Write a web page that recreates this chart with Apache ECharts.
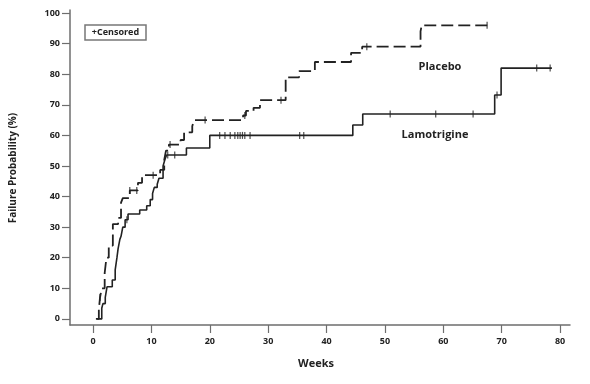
<!DOCTYPE html>
<html>
<head>
<meta charset="utf-8">
<script src="https://cdn.jsdelivr.net/npm/echarts@6/dist/echarts.min.js"></script>
<style>html,body{margin:0;padding:0;background:#fff}#c{width:590px;height:384px}</style>
</head>
<body>
<div id="c"></div>
<script>
// Kaplan-Meier step data: time (weeks) at which the failure probability (%) becomes the given value
var placeboTimes = [0.5, 1.0, 1.2, 1.5, 2.0, 2.3, 2.7, 3.4, 4.3, 4.8, 5.1, 6.3, 7.7, 8.4, 11.5, 12.2, 12.5, 13.0, 15.0, 15.6, 17.0, 17.3, 25.7, 26.2, 27.5, 28.6, 33.0, 35.3, 38.0, 44.2, 46.1, 56.1, 56.3, 67.6];
var placeboProb  = [0, 3, 7, 10, 15, 20, 24, 31, 33, 38, 39.5, 42, 44.5, 47, 48.7, 52, 55, 57, 58.5, 61, 63, 65, 66.5, 68, 69, 71.5, 79, 81, 84, 87, 89, 94, 96, 96];
var lamoTimes = [0.7, 1.5, 1.7, 2.1, 2.4, 3.3, 3.8, 4.1, 4.3, 4.6, 4.8, 5.1, 5.5, 6.0, 8.0, 9.2, 9.8, 10.2, 10.5, 11.0, 11.3, 12.0, 12.3, 12.6, 16.0, 20.0, 44.5, 46.2, 68.8, 69.9, 78.6];
var lamoProb  = [0, 3.5, 5, 7, 10.5, 12.7, 16, 20, 23, 26, 27, 30, 32.4, 34.3, 35.6, 37, 39, 41, 43, 44, 46, 50, 52, 53.6, 55.9, 60, 63.4, 67, 73.2, 82, 82];
// censoring times (weeks)
var placeboCensor = [1.2, 6.3, 7.5, 10.3, 13.2, 19.2, 26.0, 32.2, 46.9, 67.5];
var lamoCensor = [5.8, 12.8, 14.0, 21.7, 22.6, 23.5, 24.3, 24.8, 25.2, 25.6, 26.0, 26.9, 35.4, 36.1, 50.9, 58.7, 65.1, 69.2, 76.0, 78.3];
// axis ticks
var xTicks = [0, 10, 20, 30, 40, 50, 60, 70, 80];
var yTicks = [0, 10, 20, 30, 40, 50, 60, 70, 80, 90, 100];

function pairs(ts, ps) { return ts.map(function (t, i) { return [t, ps[i]]; }); }
function valueAt(ts, ps, t) {
  var v = ps[0];
  for (var i = 0; i < ts.length; i++) { if (ts[i] <= t) v = ps[i]; }
  return v;
}
function censorPts(cs, ts, ps) { return cs.map(function (t) { return [t, valueAt(ts, ps, t)]; }); }

var ink = '#222';
var axisCol = '#6e6e6e';
var font = '"Open Sans", "DejaVu Sans", sans-serif';

var chart = echarts.init(document.getElementById('c'), null, { renderer: 'canvas' });
chart.setOption({
  animation: false,
  backgroundColor: '#fff',
  grid: { left: 70, right: 20, top: 10, bottom: 59 },
  xAxis: {
    type: 'value', min: -3.94, max: 81.7,
    axisLine: { show: true, onZero: false, lineStyle: { color: axisCol, width: 1.5 } },
    axisTick: { show: true, length: 8, customValues: xTicks, lineStyle: { color: axisCol, width: 1.2 } },
    axisLabel: { customValues: xTicks, color: ink, fontSize: 9, fontWeight: 'bold', fontFamily: font, margin: 12 },
    splitLine: { show: false }
  },
  yAxis: {
    type: 'value', min: -2, max: 101,
    axisLine: { show: true, onZero: false, lineStyle: { color: axisCol, width: 1.5 } },
    axisTick: { show: true, length: 8, customValues: yTicks, lineStyle: { color: axisCol, width: 1.2 } },
    axisLabel: { customValues: yTicks, color: ink, fontSize: 9, fontWeight: 'bold', fontFamily: font, margin: 10 },
    splitLine: { show: false }
  },
  series: [
    { name: 'Placebo', type: 'line', step: 'end', data: pairs(placeboTimes, placeboProb), showSymbol: false,
      lineStyle: { color: ink, width: 1.8, type: [12, 5] }, z: 3 },
    { name: 'Lamotrigine', type: 'line', step: 'end', data: pairs(lamoTimes, lamoProb), showSymbol: false,
      lineStyle: { color: ink, width: 1.6, type: 'solid' }, z: 3 },
    { type: 'scatter', data: censorPts(placeboCensor, placeboTimes, placeboProb), symbol: 'rect', symbolSize: [1.2, 7],
      itemStyle: { color: ink }, z: 4 },
    { type: 'scatter', data: censorPts(lamoCensor, lamoTimes, lamoProb), symbol: 'rect', symbolSize: [1.2, 7],
      itemStyle: { color: ink }, z: 4 }
  ],
  graphic: [
    { type: 'rect', shape: { x: 85, y: 25, width: 61, height: 15 }, style: { fill: '#fff', stroke: '#777', lineWidth: 1.5 } },
    { type: 'text', x: 115.5, y: 32.5, style: { text: '+Censored', fill: ink, font: 'bold 9px ' + font, textAlign: 'center', textVerticalAlign: 'middle' } },
    { type: 'text', x: 440, y: 67, style: { text: 'Placebo', fill: ink, font: 'bold 11px ' + font, textAlign: 'center', textVerticalAlign: 'middle' } },
    { type: 'text', x: 435, y: 135, style: { text: 'Lamotrigine', fill: ink, font: 'bold 11px ' + font, textAlign: 'center', textVerticalAlign: 'middle' } },
    { type: 'text', x: 316, y: 364, style: { text: 'Weeks', fill: ink, font: 'bold 11px ' + font, textAlign: 'center', textVerticalAlign: 'middle' } },
    { type: 'text', x: 13, y: 168, rotation: Math.PI / 2, style: { text: 'Failure Probability (%)', fill: ink, font: 'bold 10px ' + font, textAlign: 'center', textVerticalAlign: 'middle' } }
  ]
});
</script>
</body>
</html>
